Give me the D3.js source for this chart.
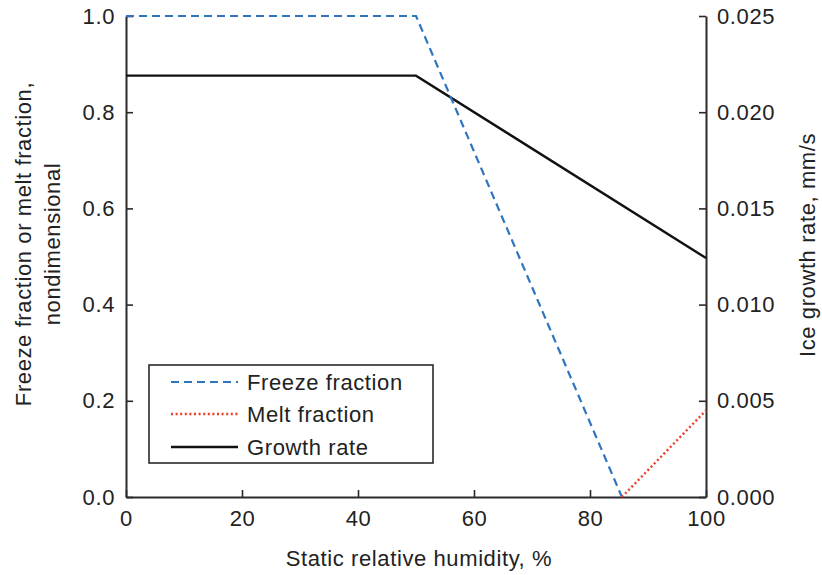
<!DOCTYPE html>
<html><head><meta charset="utf-8">
<script src="https://cdn.jsdelivr.net/npm/d3@7"></script>
<style>
body{margin:0;background:#fff;}
text{font-family:"Liberation Sans",Arial,sans-serif;fill:#222;}
</style></head>
<body><svg id="c" width="822" height="575"></svg>
<script>
const humidityTicks=[0,20,40,60,80,100];
const fractionTicks=[0,0.2,0.4,0.6,0.8,1.0];
const rateTicks=[0,0.005,0.010,0.015,0.020,0.025];
const freezeX=[0,50,85.5];
const freezeY=[1,1,0];
const meltX=[85.5,100];
const meltY=[0,0.18];
const growthX=[0,50,100];
const growthY=[0.0219,0.0219,0.01242];
const seriesNames=["Freeze fraction","Melt fraction","Growth rate"];

const svg=d3.select("#c");
const L=126,R=706,T=16,B=497;
const x=d3.scaleLinear().domain([0,100]).range([L,R]);
const y=d3.scaleLinear().domain([0,1]).range([B,T]);
const y2=d3.scaleLinear().domain([0,0.025]).range([B,T]);
const FS=22, LS="0.6px", AX="#2a2a2a";

function styleAxis(g){
  g.selectAll(".domain").attr("stroke",AX).attr("stroke-width",2);
  g.selectAll(".tick line").attr("stroke",AX).attr("stroke-width",1.6);
  g.selectAll(".tick text").attr("font-size",FS).attr("letter-spacing",LS)
   .attr("font-family","Liberation Sans, Arial, sans-serif").attr("fill","#222");
}
const gx=svg.append("g").attr("transform",`translate(0,${B})`)
 .call(d3.axisBottom(x).tickValues(humidityTicks).tickSize(-7).tickSizeOuter(0).tickPadding(13).tickFormat(d3.format("d")));
styleAxis(gx);
const gy=svg.append("g").attr("transform",`translate(${L},0)`)
 .call(d3.axisLeft(y).tickValues(fractionTicks).tickSize(-7).tickSizeOuter(0).tickPadding(11).tickFormat(d3.format(".1f")));
styleAxis(gy);
const gy2=svg.append("g").attr("transform",`translate(${R},0)`)
 .call(d3.axisRight(y2).tickValues(rateTicks).tickSize(-7).tickSizeOuter(0).tickPadding(11).tickFormat(d3.format(".3f")));
styleAxis(gy2);

const line1=d3.line().x(d=>x(d[0])).y(d=>y(d[1]));
const line2=d3.line().x(d=>x(d[0])).y(d=>y2(d[1]));
const freeze=freezeX.map((v,i)=>[v,freezeY[i]]);
const melt=meltX.map((v,i)=>[v,meltY[i]]);
const growth=growthX.map((v,i)=>[v,growthY[i]]);

const styles=[
 {stroke:"#2e75c0",w:2.2,dash:"8,5"},
 {stroke:"#f03a24",w:2.4,dash:"2,2.6"},
 {stroke:"#111",w:2.4,dash:null}
];
svg.append("path").attr("d",line2(growth)).attr("fill","none").attr("stroke",styles[2].stroke).attr("stroke-width",styles[2].w);
svg.append("path").attr("d",line1(freeze)).attr("fill","none").attr("stroke",styles[0].stroke).attr("stroke-width",styles[0].w).attr("stroke-dasharray",styles[0].dash);
svg.append("path").attr("d",line1(melt)).attr("fill","none").attr("stroke",styles[1].stroke).attr("stroke-width",styles[1].w).attr("stroke-dasharray",styles[1].dash);

// legend
const lg=svg.append("g");
lg.append("rect").attr("x",149).attr("y",365).attr("width",284).attr("height",98)
 .attr("fill","#fff").attr("stroke","#2a2a2a").attr("stroke-width",1.6);
const ly=[382,414,447];
seriesNames.forEach((n,i)=>{
  const s=styles[i];
  lg.append("line").attr("x1",171).attr("x2",238).attr("y1",ly[i]).attr("y2",ly[i])
   .attr("stroke",s.stroke).attr("stroke-width",s.w).attr("stroke-dasharray",s.dash);
  lg.append("text").attr("x",247).attr("y",ly[i]).attr("dy","0.35em")
   .attr("font-size",FS).attr("letter-spacing",LS).text(n);
});

// axis labels
svg.append("text").attr("x",(L+R)/2+3).attr("y",566).attr("text-anchor","middle")
 .attr("font-size",FS).attr("letter-spacing",LS).text("Static relative humidity, %");
const yl=svg.append("text").attr("transform","translate(0,244) rotate(-90)").attr("text-anchor","middle")
 .attr("font-size",FS).attr("letter-spacing",LS);
yl.append("tspan").attr("x",0).attr("y",31).text("Freeze fraction or melt fraction,");
yl.append("tspan").attr("x",0).attr("y",60).text("nondimensional");
svg.append("text").attr("transform","translate(815,245) rotate(-90)").attr("text-anchor","middle")
 .attr("font-size",FS).attr("letter-spacing",LS).text("Ice growth rate, mm/s");
</script></body></html>
